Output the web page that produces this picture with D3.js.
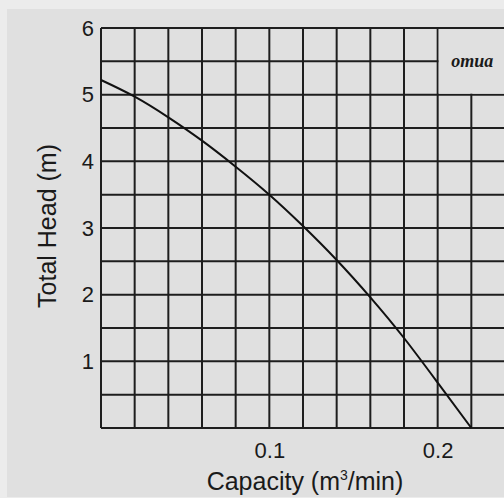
<html>
<head>
<title>Pump curve</title>
<script src="https://d3js.org/d3.v7.min.js"></script>
<style>
  body { margin: 0; background: #ececec; }
  text { font-family: "Liberation Sans", Arial, sans-serif; fill: #1a1a1a; }
</style>
</head>
<body>
<div id="chart"></div>
<script type="text/javascript">
    // data
    var capacity = [0, 0.02, 0.04, 0.06, 0.08, 0.10, 0.12, 0.14, 0.16, 0.18, 0.20, 0.22];
    var head = [5.22, 4.97, 4.66, 4.31, 3.92, 3.5, 3.03, 2.52, 1.96, 1.35, 0.68, 0];
    var xTicks = [0.1, 0.2];
    var yTicks = [1, 2, 3, 4, 5, 6];
    var xGrid = d3.range(0, 0.2401, 0.02);
    var yGrid = d3.range(0, 6.01, 0.5);
    var legendText = "omua";

    var W = 504, H = 498;
    var margin = {top: 28, left: 101};
    var width = 404, height = 400;

    var svg = d3.select("#chart").append("svg")
        .attr("width", W)
        .attr("height", H);

    svg.append("rect")
        .attr("x", 7).attr("y", 9)
        .attr("width", W - 7).attr("height", H - 10)
        .attr("fill", "#e0e0e0");

    var g = svg.append("g")
        .attr("transform", "translate(" + margin.left + "," + margin.top + ")");

    var x = d3.scaleLinear().domain([0, 0.24]).range([0, width]);
    var y = d3.scaleLinear().domain([0, 6]).range([height, 0]);

    // grid
    g.append("g")
        .selectAll("line.v")
        .data(xGrid)
        .enter().append("line")
        .attr("x1", function (d) { return x(d); })
        .attr("x2", function (d) { return x(d); })
        .attr("y1", 0).attr("y2", height)
        .attr("stroke", "#1e1e1e")
        .attr("stroke-width", 2);

    g.append("g")
        .selectAll("line.h")
        .data(yGrid)
        .enter().append("line")
        .attr("x1", 0).attr("x2", width)
        .attr("y1", function (d) { return y(d); })
        .attr("y2", function (d) { return y(d); })
        .attr("stroke", "#1e1e1e")
        .attr("stroke-width", 2);

    // box in the top right corner
    g.append("rect")
        .attr("x", x(0.2) + 1)
        .attr("y", y(6) + 1)
        .attr("width", width - x(0.2))
        .attr("height", y(5) - y(6) - 2)
        .attr("fill", "#e0e0e0");

    g.append("text")
        .attr("x", (x(0.2) + width) / 2 + 1)
        .attr("y", y(5.5) + 6)
        .attr("text-anchor", "middle")
        .style("font-family", "'Liberation Serif', serif")
        .style("font-weight", "bold")
        .style("font-style", "italic")
        .style("font-size", "18px")
        .text(legendText);

    // curve
    var line = d3.line()
        .x(function (d, i) { return x(capacity[i]); })
        .y(function (d) { return y(d); })
        .curve(d3.curveNatural);

    g.append("path")
        .datum(head)
        .attr("fill", "none")
        .attr("stroke", "#111")
        .attr("stroke-width", 2)
        .attr("d", line);

    // axes labels
    var xAxis = g.append("g")
        .attr("transform", "translate(0," + height + ")")
        .call(d3.axisBottom(x).tickValues(xTicks).tickSize(0).tickPadding(14).tickFormat(d3.format(".1f")));
    xAxis.select(".domain").remove();
    xAxis.attr("font-size", null).attr("font-family", null);
    xAxis.selectAll("text")
        .style("font-size", "22px")
        .attr("fill", "#1a1a1a");

    var yAxis = g.append("g")
        .call(d3.axisLeft(y).tickValues(yTicks).tickSize(0).tickPadding(7).tickFormat(d3.format("d")));
    yAxis.select(".domain").remove();
    yAxis.attr("font-size", null).attr("font-family", null);
    yAxis.selectAll("text")
        .style("font-size", "22px")
        .attr("fill", "#1a1a1a");

    // titles
    var xt = svg.append("text")
        .attr("x", 305)
        .attr("y", 490)
        .attr("text-anchor", "middle")
        .style("font-size", "25px");
    xt.append("tspan").text("Capacity (m");
    xt.append("tspan").attr("dy", -10).style("font-size", "14px").text("3");
    xt.append("tspan").attr("dy", 10).text("/min)");

    svg.append("text")
        .attr("transform", "translate(56,226) rotate(-90)")
        .attr("text-anchor", "middle")
        .style("font-size", "25px")
        .text("Total Head (m)");
</script>
</body>
</html>
